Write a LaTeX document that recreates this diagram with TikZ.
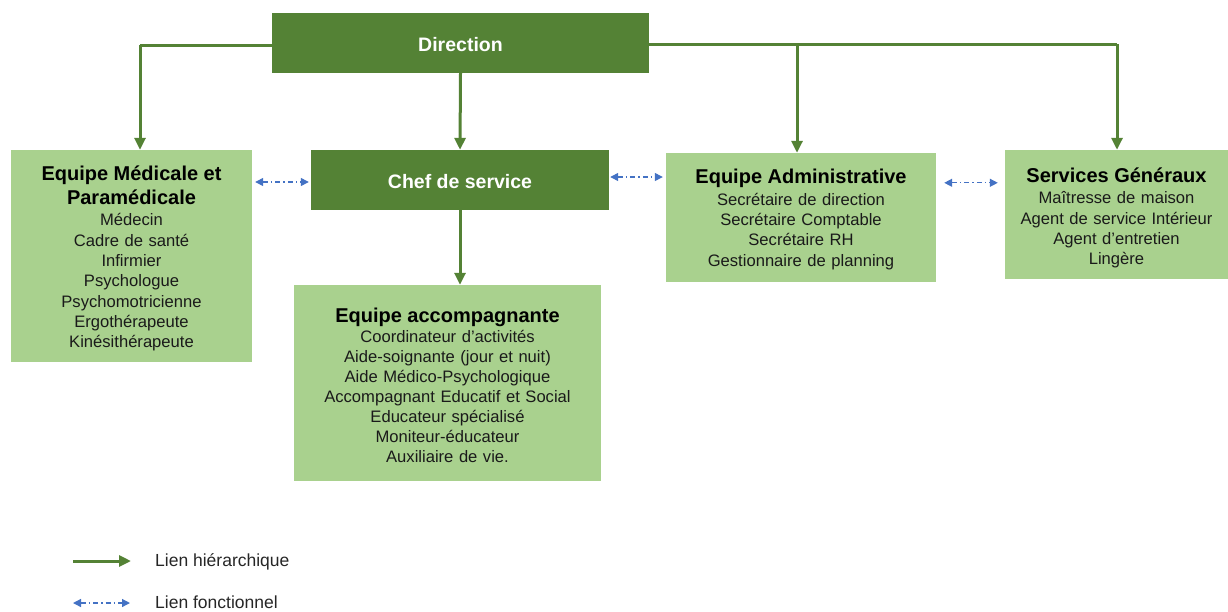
\documentclass[tikz,border=0pt]{standalone}
\usepackage{fontspec}
\setmainfont{Liberation Sans}
\usetikzlibrary{arrows.meta,calc}
\definecolor{dgreen}{HTML}{548235}
\definecolor{lgreen}{HTML}{A9D18E}
\definecolor{fblue}{HTML}{4472C4}
\definecolor{txt}{HTML}{1A1A1A}
\newcommand{\ttl}{\fontsize{20}{24}\selectfont\bfseries\color{black}}
\newcommand{\bdy}{\fontsize{16.6}{20.3}\selectfont\mdseries\color{txt}}
\begin{document}
\begin{tikzpicture}[x=1pt,y=-1pt,
  darkbox/.style={fill=dgreen, draw=none, text=white, inner sep=0pt,
    text height=17.5pt, text depth=0pt,
    font=\fontsize{19.5}{24}\selectfont\bfseries},
  lightbox/.style={fill=lgreen, draw=none, inner sep=0pt, align=center, font=\bdy},
  hier/.style={draw=dgreen, line width=3pt, -{Triangle[length=12pt,width=11pt]}},
  hierline/.style={draw=dgreen, line width=3pt},
  func/.style={draw=fblue, line width=1.3pt, dash pattern=on 5pt off 3pt on 1.5pt off 3pt,
    {Triangle[length=8pt,width=8pt]}-{Triangle[length=8pt,width=8pt]}},
  legtext/.style={anchor=west, inner sep=0pt, text=black!85,
    font=\fontsize{17.5}{21}\selectfont}
]
\useasboundingbox (0,0) rectangle (1228,611);

% boxes
\node[darkbox, minimum width=377pt, minimum height=60pt] (dir) at (460.5,43) {Direction};
\node[darkbox, minimum width=298pt, minimum height=60pt] (chef) at (460,180) {Chef de service};

\node[lightbox, minimum width=241pt, minimum height=212pt, text width=241pt] (med) at (131.5,256)
 {\ttl Equipe Médicale et\\ \ttl Paramédicale\\[1pt]
  \bdy Médecin\\ Cadre de santé\\ Infirmier\\ Psychologue\\ Psychomotricienne\\ Ergothérapeute\\ Kinésithérapeute\par\vspace{-5pt}};

\node[lightbox, minimum width=270pt, minimum height=129pt, text width=270pt] (adm) at (801,217.5)
 {\ttl Equipe Administrative\\[1pt]
  \bdy Secrétaire de direction\\ Secrétaire Comptable\\ Secrétaire RH\\ Gestionnaire de planning\par\vspace{-4pt}};

\node[lightbox, minimum width=223pt, minimum height=129pt, text width=223pt] (srv) at (1116.5,214.5)
 {\ttl Services Généraux\\[1pt]
  \bdy Maîtresse de maison\\ Agent de service Intérieur\\ Agent d’entretien\\ Lingère\par\vspace{-7pt}};

\node[lightbox, minimum width=307pt, minimum height=196pt, text width=307pt] (acc) at (447.5,383)
 {\ttl Equipe accompagnante\\[1pt]
  \fontsize{16.6}{19.9}\selectfont\mdseries\color{txt}Coordinateur d’activités\\ Aide-soignante (jour et nuit)\\ Aide Médico-Psychologique\\
  Accompagnant Educatif et Social\\ Educateur spécialisé\\ Moniteur-éducateur\\ Auxiliaire de vie.\par\vspace{-4pt}};

% hierarchical links
\coordinate (jm) at (140,45);
\coordinate (ja) at (797,44);
\coordinate (js) at (1117,44);
\draw[hierline] ([yshift=-2pt]dir.west) -- (jm);
\draw[hier] (jm) -- (jm |- med.north);
\draw[hierline] ([yshift=-1pt]dir.east) -- ([yshift=-1pt]dir.east -| js);
\draw[hier] (ja) -- (ja |- adm.north);
\draw[hier] (js) -- (js |- srv.north);
\draw[hier] (dir.south) -- (chef.north);
\draw[hier] (chef.south) -- (chef.south |- acc.north);

% functional links
\draw[func, shorten <=3pt, shorten >=2pt] ([yshift=-2pt]chef.west -| med.east) -- ([yshift=-2pt]chef.west);
\draw[func, shorten <=1pt, shorten >=3pt] ([yshift=3pt]chef.east) -- ([yshift=3pt]chef.east -| adm.west);
\draw[func, shorten <=8pt, shorten >=7pt] ([yshift=-30pt]adm.north east) -- ([yshift=-30pt]adm.north east -| srv.west);

% legend
\coordinate (l1a) at (73,561);
\coordinate (l1b) at (131,561);
\coordinate (l2a) at (73,603);
\coordinate (l2b) at (130,603);
\draw[hier] (l1a) -- (l1b);
\draw[func] (l2a) -- (l2b);
\node[legtext] (lh) at (155,561.5) {Lien hiérarchique};
\node[legtext] (lf) at (155,602.5) {Lien fonctionnel};
\end{tikzpicture}
\end{document}
